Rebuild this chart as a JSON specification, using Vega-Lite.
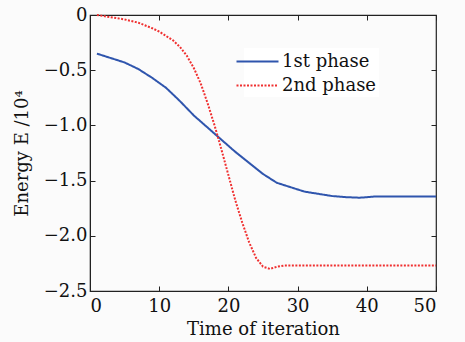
{
  "$schema": "https://vega.github.io/schema/vega-lite/v6.json",
  "width": 346,
  "height": 276,
  "autosize": {"type": "none"},
  "padding": {"left": 90, "top": 15, "right": 29, "bottom": 51},
  "background": "#fbfbfb",
  "config": {
    "view": {"stroke": "#222", "strokeWidth": 1.2},
    "font": "DejaVu Serif",
    "axis": {"grid": false, "domainColor": "#222", "tickColor": "#222", "labelColor": "#111", "titleColor": "#111", "labelFont": "DejaVu Serif", "titleFont": "DejaVu Serif", "labelFontSize": 18, "titleFontSize": 18, "titleFontWeight": "normal", "tickSize": -5}
  },
  "data": {"values": [
    {"phase": "1st phase", "t": 1, "E": -0.35},
    {"phase": "1st phase", "t": 3, "E": -0.39},
    {"phase": "1st phase", "t": 5, "E": -0.43},
    {"phase": "1st phase", "t": 7, "E": -0.49},
    {"phase": "1st phase", "t": 9, "E": -0.57},
    {"phase": "1st phase", "t": 11, "E": -0.66},
    {"phase": "1st phase", "t": 13, "E": -0.78},
    {"phase": "1st phase", "t": 15, "E": -0.91},
    {"phase": "1st phase", "t": 17, "E": -1.02},
    {"phase": "1st phase", "t": 19, "E": -1.13},
    {"phase": "1st phase", "t": 21, "E": -1.24},
    {"phase": "1st phase", "t": 23, "E": -1.34},
    {"phase": "1st phase", "t": 25, "E": -1.44},
    {"phase": "1st phase", "t": 27, "E": -1.52},
    {"phase": "1st phase", "t": 29, "E": -1.56},
    {"phase": "1st phase", "t": 31, "E": -1.6},
    {"phase": "1st phase", "t": 33, "E": -1.62},
    {"phase": "1st phase", "t": 35, "E": -1.64},
    {"phase": "1st phase", "t": 37, "E": -1.65},
    {"phase": "1st phase", "t": 39, "E": -1.655},
    {"phase": "1st phase", "t": 41, "E": -1.645},
    {"phase": "1st phase", "t": 50, "E": -1.645},
    {"phase": "2nd phase", "t": 1, "E": 0},
    {"phase": "2nd phase", "t": 3, "E": -0.02},
    {"phase": "2nd phase", "t": 5, "E": -0.04},
    {"phase": "2nd phase", "t": 7, "E": -0.07},
    {"phase": "2nd phase", "t": 9, "E": -0.12},
    {"phase": "2nd phase", "t": 10, "E": -0.15},
    {"phase": "2nd phase", "t": 11, "E": -0.19},
    {"phase": "2nd phase", "t": 12, "E": -0.23},
    {"phase": "2nd phase", "t": 13, "E": -0.29},
    {"phase": "2nd phase", "t": 14, "E": -0.37},
    {"phase": "2nd phase", "t": 15, "E": -0.48},
    {"phase": "2nd phase", "t": 16, "E": -0.62},
    {"phase": "2nd phase", "t": 17, "E": -0.8},
    {"phase": "2nd phase", "t": 18, "E": -1.0},
    {"phase": "2nd phase", "t": 19, "E": -1.22},
    {"phase": "2nd phase", "t": 20, "E": -1.45},
    {"phase": "2nd phase", "t": 21, "E": -1.68},
    {"phase": "2nd phase", "t": 22, "E": -1.88},
    {"phase": "2nd phase", "t": 23, "E": -2.06},
    {"phase": "2nd phase", "t": 24, "E": -2.2},
    {"phase": "2nd phase", "t": 25, "E": -2.28},
    {"phase": "2nd phase", "t": 26, "E": -2.3},
    {"phase": "2nd phase", "t": 27, "E": -2.28},
    {"phase": "2nd phase", "t": 28, "E": -2.27},
    {"phase": "2nd phase", "t": 50, "E": -2.27}
  ]},
  "layer": [
    {
      "mark": {"type": "line", "strokeWidth": 2},
      "encoding": {
        "x": {"field": "t", "type": "quantitative", "scale": {"domain": [0, 50], "nice": false},
              "axis": {"values": [0, 10, 20, 30, 40, 50], "title": "Time of iteration", "labelPadding": 11, "titlePadding": 5}},
        "y": {"field": "E", "type": "quantitative", "scale": {"domain": [-2.5, 0], "nice": false, "zero": false},
              "axis": {"values": [0, -0.5, -1, -1.5, -2, -2.5], "labelExpr": "datum.value == 0 ? '0' : replace(format(datum.value, '.1f'), '-', '−')", "title": "Energy E /10⁴", "labelPadding": 8, "titlePadding": 12}},
        "color": {"field": "phase", "type": "nominal", "scale": {"domain": ["1st phase", "2nd phase"], "range": ["#2f55ad", "#f03030"]},
                  "legend": {"orient": "none", "legendX": 154, "legendY": 33, "title": null, "symbolType": "M-2,0L2,0", "symbolSize": 441, "symbolStrokeWidth": 2, "symbolFillColor": "transparent", "labelFont": "DejaVu Serif", "labelFontSize": 18, "labelColor": "#111", "rowPadding": 3, "fillColor": "#ffffff", "padding": 2, "labelOffset": 13}},
        "strokeDash": {"field": "phase", "type": "nominal", "scale": {"domain": ["1st phase", "2nd phase"], "range": [[1, 0], [2, 1.5]]}, "legend": null}
      }
    },
    {
      "mark": {"type": "point", "opacity": 0},
      "encoding": {
        "x": {"field": "t", "type": "quantitative", "scale": {"domain": [0, 50], "nice": false},
              "axis": {"orient": "top", "values": [0, 10, 20, 30, 40, 50], "labels": false, "title": null, "domain": false}},
        "y": {"field": "E", "type": "quantitative", "scale": {"domain": [-2.5, 0], "nice": false, "zero": false},
              "axis": {"orient": "right", "values": [0, -0.5, -1, -1.5, -2, -2.5], "labels": false, "title": null, "domain": false}}
      }
    }
  ],
  "resolve": {"axis": {"x": "independent", "y": "independent"}}
}
